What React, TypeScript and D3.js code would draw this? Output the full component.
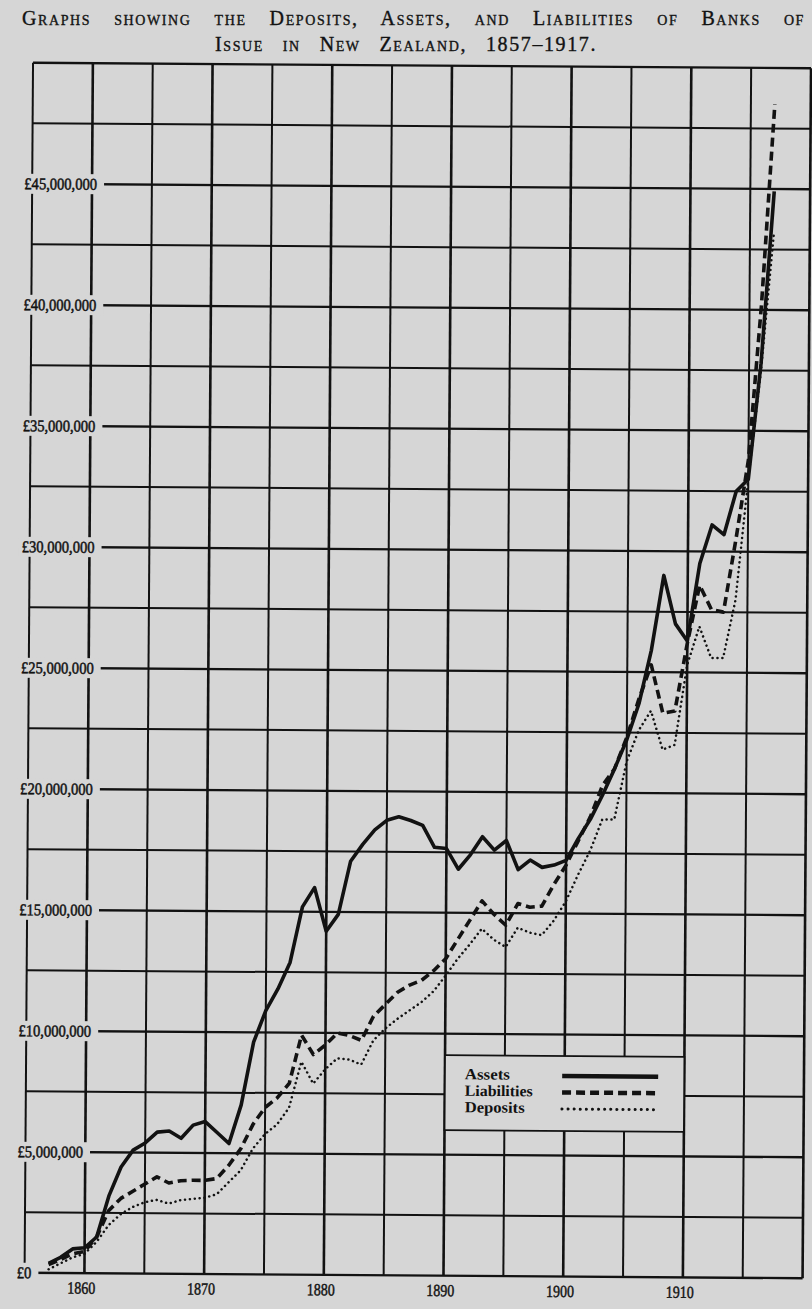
import React, { useEffect, useRef, useState } from 'react';
import * as d3 from 'd3';

// Years 1857–1917, values in £ millions
const years = d3.range(1857, 1918);

const assets = [
  0.4, 0.65, 1.0, 1.05, 1.5, 3.2, 4.4, 5.1, 5.4, 5.85,
  5.9, 5.6, 6.15, 6.3, 5.85, 5.4, 7.0, 9.6, 10.9, 11.8,
  12.9, 15.2, 16.0, 14.2, 14.9, 17.1, 17.8, 18.4, 18.8, 18.95,
  18.8, 18.6, 17.7, 17.65, 16.8, 17.4, 18.15, 17.6, 18.0, 16.8,
  17.2, 16.9, 17.0, 17.2, 18.1, 18.9, 19.9, 21.0, 22.2, 23.7,
  25.9, 29.0, 27.0, 26.3, 29.5, 31.1, 30.7, 32.5, 33.0, 37.8,
  44.9,
];

const liabilities = [
  0.35, 0.55, 0.8, 0.9, 1.5, 2.6, 3.1, 3.4, 3.7, 4.0,
  3.75, 3.85, 3.87, 3.87, 3.95, 4.5, 5.2, 6.2, 6.9, 7.3,
  7.9, 9.9, 9.1, 9.5, 10.0, 9.9, 9.7, 10.7, 11.2, 11.7,
  12.0, 12.2, 12.6, 13.1, 13.9, 14.7, 15.5, 14.95, 14.5, 15.4,
  15.25, 15.3, 16.2, 17.0, 18.0, 19.0, 20.3, 21.0, 22.3, 23.9,
  25.3, 23.3, 23.4, 26.2, 28.6, 27.6, 27.5, 30.5, 33.8, 40.2,
  48.5,
];

const deposits = [
  0.15, 0.4, 0.65, 0.8, 1.3, 2.0, 2.45, 2.75, 2.95, 3.05,
  2.9, 3.05, 3.1, 3.15, 3.3, 3.8, 4.3, 5.2, 5.8, 6.2,
  6.9, 8.8, 7.9, 8.5, 8.95, 8.9, 8.7, 9.7, 10.2, 10.6,
  10.95, 11.3, 11.75, 12.4, 13.1, 13.7, 14.35, 13.9, 13.6, 14.4,
  14.2, 14.1, 14.7, 15.5, 16.6, 17.6, 18.9, 18.9, 21.3, 22.6,
  23.4, 21.8, 22.0, 25.3, 26.9, 25.6, 25.6, 28.0, 33.0, 37.5,
  43.2,
];

const yTicks = [0, 5, 10, 15, 20, 25, 30, 35, 40, 45];
const xTicks = [1860, 1870, 1880, 1890, 1900, 1910];
const legendLabels = ['Assets', 'Liabilities', 'Deposits'];
const titleLine1 = 'Graphs showing the Deposits, Assets, and Liabilities of Banks of';
const titleLine2 = 'Issue in New Zealand, 1857\u20131917.';

const BG = '#d6d6d6';
const INK = '#121212';
const SERIF = '"Liberation Serif", "DejaVu Serif", serif';

function SpacedText(props: { text: string; x: number; y: number; width: number; size: number; ls: number }) {
  const ref = useRef<SVGTextElement>(null);
  const [ws, setWs] = useState(0);
  useEffect(() => {
    if (!ref.current) return;
    const el = ref.current;
    el.style.wordSpacing = '0px';
    const natural = el.getComputedTextLength();
    const spaces = props.text.split(' ').length - 1;
    if (spaces > 0) setWs(Math.max(0, (props.width - natural) / spaces));
  }, [props.text, props.width]);
  return (
    <text
      ref={ref}
      x={props.x}
      y={props.y}
      fontSize={props.size}
      fontFamily={SERIF}
      fill={INK}
      stroke={INK}
      strokeWidth={0.35}
      style={{ fontVariant: 'small-caps', wordSpacing: `${ws}px`, letterSpacing: `${props.ls}px` }}
    >
      {props.text}
    </text>
  );
}

export default function App() {
  const W = 812;
  const H = 1309;
  const x = d3.scaleLinear().domain([1855, 1920]).range([28.8, 806.8]);
  const y = d3.scaleLinear().domain([0, 50]).range([1275.5, 65.5]);

  const mk = (vals: number[]) =>
    d3.line<number>()
      .x((_, i) => x(years[i]))
      .y((d) => y(d))
      .curve(d3.curveLinear)(vals) as string;

  const vLines = d3.range(1855, 1921, 5);
  const hLines = d3.range(0, 50.001, 2.5);

  const fmt = (v: number) => (v === 0 ? '£0' : '£' + d3.format(',')(v * 1e6));
  const labelWidth = (s: string) => {
    let w = 0;
    for (const c of s) w += c === ',' ? 3.5 : 7.3;
    return w;
  };

  const lx0 = x(1890);
  const lx1 = x(1910);
  const legendStyles = [
    { w: 4.5, dash: undefined as string | undefined, cap: 'butt' },
    { w: 4.5, dash: '9 5', cap: 'butt' },
    { w: 3, dash: '0.1 6', cap: 'round' },
  ];

  return (
    <svg
      width={W}
      height={H}
      viewBox={`0 0 ${W} ${H}`}
      style={{ position: 'absolute', left: 0, top: 0, display: 'block' }}
    >
      <rect x={0} y={0} width={W} height={H} fill={BG} />

      {/* Title */}
      <SpacedText text={titleLine1} x={22} y={25} width={783} size={20} ls={1.6} />
      <SpacedText text={titleLine2} x={215} y={51} width={382} size={20} ls={1.6} />

      <g transform="rotate(0.4, 418, 670)">
        {/* grid */}
        {vLines.map((yr) => (
          <line
            key={'v' + yr}
            x1={x(yr)}
            x2={x(yr)}
            y1={y(50)}
            y2={y(0)}
            stroke={INK}
            strokeWidth={yr % 10 === 0 ? 2.6 : 2}
          />
        ))}
        {hLines.map((v) => (
          <line
            key={'h' + v}
            x1={x(1855)}
            x2={x(1920)}
            y1={y(v)}
            y2={y(v)}
            stroke={INK}
            strokeWidth={v % 5 === 0 ? 2.4 : 2}
          />
        ))}

        {/* y labels with background masks */}
        {yTicks.map((v) => {
          const s = fmt(v);
          const w = labelWidth(s);
          return (
            <g key={'yl' + v}>
              <rect x={18} y={y(v) - 10} width={w + 10} height={20} fill={BG} />
              <text
                x={21}
                y={y(v) + 5.5}
                fontFamily={SERIF}
                fontSize={16.5}
                fill={INK}
                textLength={w}
                lengthAdjust="spacingAndGlyphs"
                stroke={INK}
                strokeWidth={0.5}
              >
                {s}
              </text>
            </g>
          );
        })}

        {/* x labels */}
        {xTicks.map((yr) => (
          <text
            key={'xl' + yr}
            x={x(yr) - 3}
            y={1296}
            textAnchor="middle"
            fontFamily={SERIF}
            fontSize={17}
            fill={INK}
            textLength={28}
            lengthAdjust="spacingAndGlyphs"
            stroke={INK}
            strokeWidth={0.45}
          >
            {yr}
          </text>
        ))}

        {/* legend box */}
        <rect x={lx0} y={1055} width={lx1 - lx0} height={75} fill={BG} stroke={INK} strokeWidth={1.8} />

        {/* series */}
        <path d={mk(deposits)} fill="none" stroke={INK} strokeWidth={2.5} strokeDasharray="0.1 4.8" strokeLinecap="round" />
        <path d={mk(liabilities)} fill="none" stroke={INK} strokeWidth={3.6} strokeDasharray="9 5" strokeLinejoin="round" />
        <path d={mk(assets)} fill="none" stroke={INK} strokeWidth={3.6} strokeLinejoin="round" />

        {/* legend entries */}
        {legendLabels.map((lab, i) => {
          const yy = 1078 + i * 16.5;
          const st = legendStyles[i];
          return (
            <g key={lab}>
              <text
                x={lx0 + 20}
                y={yy + 1}
                fontFamily={SERIF}
                fontSize={15.5}
                fontWeight="bold"
                fill={INK}
                textLength={[45, 68, 60][i]}
                lengthAdjust="spacingAndGlyphs"
              >
                {lab}
              </text>
              <line
                x1={565}
                x2={661}
                y1={yy - 3}
                y2={yy - 3}
                stroke={INK}
                strokeWidth={st.w}
                strokeDasharray={st.dash}
                strokeLinecap={st.cap as any}
              />
            </g>
          );
        })}
      </g>
    </svg>
  );
}
